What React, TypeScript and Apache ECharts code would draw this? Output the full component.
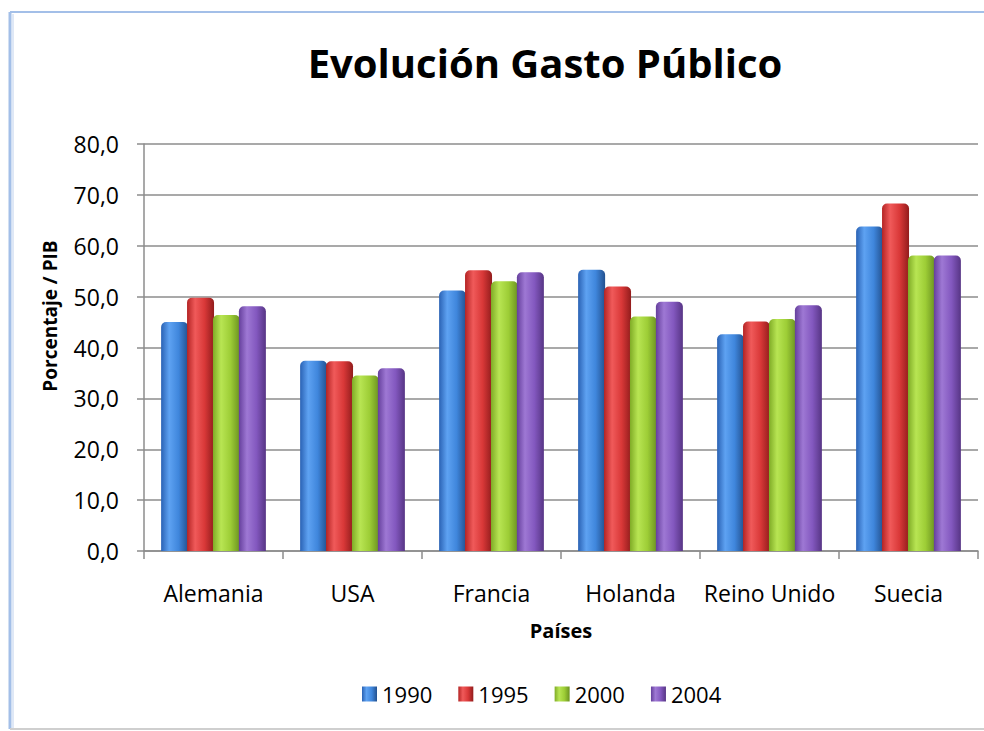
import React, { useEffect, useRef } from "react";
import * as echarts from "echarts";

// Public spending as a share of GDP, by country and year
const countries = ["Alemania", "USA", "Francia", "Holanda", "Reino Unido", "Suecia"];
const years = ["1990", "1995", "2000", "2004"];
const values1990 = [45.0, 37.4, 51.2, 55.3, 42.6, 63.8];
const values1995 = [49.8, 37.3, 55.2, 52.0, 45.1, 68.3];
const values2000 = [46.4, 34.5, 53.0, 46.1, 45.6, 58.1];
const values2004 = [48.1, 35.9, 54.8, 49.0, 48.3, 58.1];
const yTicks = [0, 10, 20, 30, 40, 50, 60, 70, 80];

const seriesValues = [values1990, values1995, values2000, values2004];

// Cylinder-like shading for each year's bars
const palettes = [
  ["#2a62b4", "#5ea2f2", "#3f86dc", "#23518f"],
  ["#b42424", "#f05a5a", "#d93838", "#921c1c"],
  ["#7fab26", "#b8e553", "#9dcd36", "#6b9220"],
  ["#653f9c", "#9e78d4", "#8358bf", "#573585"],
];

const font = "'Open Sans', 'DejaVu Sans', sans-serif";
const gridColor = "#8c8c8c";

function shade(p: string[]) {
  return new echarts.graphic.LinearGradient(0, 0, 1, 0, [
    { offset: 0, color: p[0] },
    { offset: 0.3, color: p[1] },
    { offset: 0.65, color: p[2] },
    { offset: 1, color: p[3] },
  ]);
}

export default function App() {
  const ref = useRef<HTMLDivElement>(null);

  useEffect(() => {
    if (!ref.current) return;
    const chart = echarts.init(ref.current, null, { renderer: "svg" });

    chart.setOption({
      animation: false,
      backgroundColor: "#ffffff",
      textStyle: { fontFamily: font },
      grid: { left: 144, right: 6, top: 144, bottom: 180 },
      legend: {
        left: 357,
        top: 678,
        itemWidth: 15,
        itemHeight: 15,
        itemGap: 26,
        icon: "rect",
        textStyle: { fontFamily: font, fontSize: 22, color: "#000" },
        data: years.map((y, i) => ({ name: y, itemStyle: { color: shade(palettes[i]) } })),
      },
      xAxis: {
        type: "category",
        data: countries,
        axisLine: { lineStyle: { color: gridColor, width: 1.5 } },
        axisTick: { show: true, length: 8, alignWithLabel: false, lineStyle: { color: gridColor, width: 1.5 } },
        axisLabel: { fontFamily: font, fontSize: 23, color: "#000", margin: 30, interval: 0 },
        splitLine: { show: false },
      },
      yAxis: {
        type: "value",
        min: yTicks[0],
        max: yTicks[yTicks.length - 1],
        interval: yTicks[1] - yTicks[0],
        axisLine: { show: true, lineStyle: { color: gridColor, width: 1.5 } },
        axisTick: { show: true, length: 7, lineStyle: { color: gridColor, width: 1.5 } },
        axisLabel: {
          fontFamily: font,
          fontSize: 23,
          color: "#000",
          margin: 25,
          formatter: (v: number) => v.toFixed(1).replace(".", ","),
        },
        splitLine: { lineStyle: { color: gridColor, width: 1.5 } },
      },
      series: years.map((y, i) => ({
        name: y,
        type: "bar",
        barWidth: 27,
        barGap: "-4%",
        data: seriesValues[i],
        itemStyle: { color: shade(palettes[i]), borderRadius: [5, 5, 0, 0] },
      })),
      graphic: [
        // chart frame
        { type: "line", shape: { x1: 10, y1: 12, x2: 984, y2: 12 }, style: { stroke: "#a3bfe8", lineWidth: 2 } },
        { type: "line", shape: { x1: 10, y1: 12, x2: 10, y2: 729 }, style: { stroke: "#a3bfe8", lineWidth: 3 } },
        { type: "line", shape: { x1: 13, y1: 14, x2: 13, y2: 729 }, style: { stroke: "#dfe8f6", lineWidth: 2 } },
        { type: "line", shape: { x1: 10, y1: 729, x2: 984, y2: 729 }, style: { stroke: "#cfcfcf", lineWidth: 2 } },
        {
          type: "text",
          x: 545,
          y: 62,
          style: {
            text: "Evolución Gasto Público",
            fontFamily: font,
            fontSize: 40,
            fontWeight: "bold",
            fill: "#000",
            align: "center",
            verticalAlign: "middle",
          },
        },
        {
          type: "text",
          x: 50,
          y: 316,
          rotation: Math.PI / 2,
          style: {
            text: "Porcentaje / PIB",
            fontFamily: font,
            fontSize: 19,
            fontWeight: "bold",
            fill: "#000",
            align: "center",
            verticalAlign: "middle",
          },
        },
        {
          type: "text",
          x: 561,
          y: 630,
          style: {
            text: "Países",
            fontFamily: font,
            fontSize: 20,
            fontWeight: "bold",
            fill: "#000",
            align: "center",
            verticalAlign: "middle",
          },
        },
      ],
    });

    return () => chart.dispose();
  }, []);

  return (
    <div
      ref={ref}
      style={{ position: "absolute", left: 0, top: 0, width: 984, height: 731 }}
    />
  );
}
